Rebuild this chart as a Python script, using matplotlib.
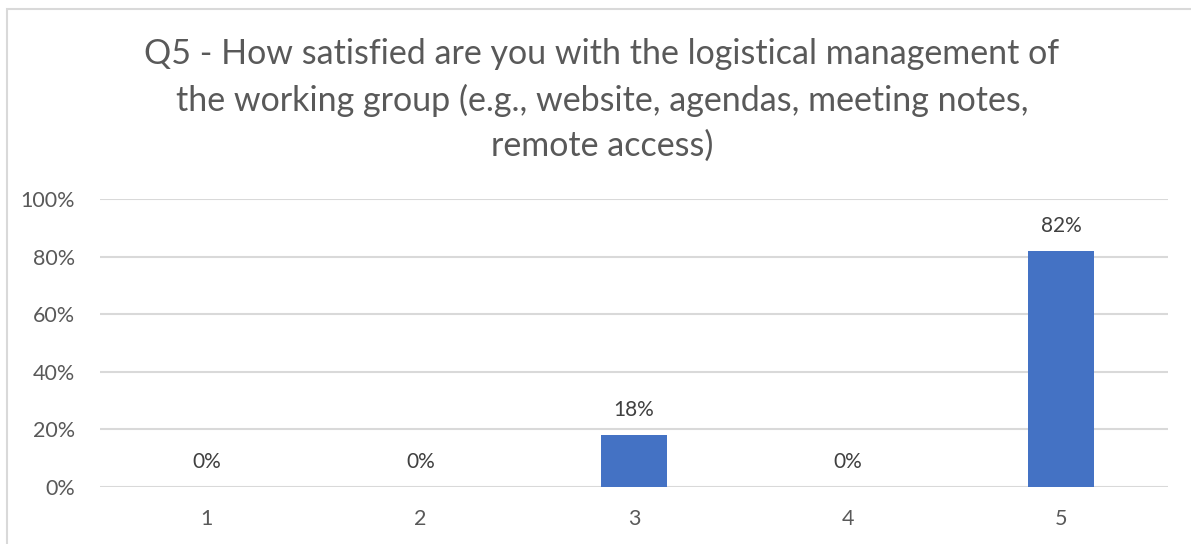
import matplotlib.pyplot as plt
from matplotlib.patches import Rectangle

categories = ["1", "2", "3", "4", "5"]
shares = [0, 0, 18, 0, 82]
yticks = [0, 20, 40, 60, 80, 100]
title = ("Q5 - How satisfied are you with the logistical management of\n"
         "the working group (e.g., website, agendas, meeting notes,\n"
         "remote access)")

plt.rcParams['font.family'] = ['Lato', 'DejaVu Sans']

W, H = 1191, 544
fig = plt.figure(figsize=(W / 100, H / 100), dpi=100)
ax = fig.add_axes([100 / W, 1 - 487 / H, (1168 - 100) / W, (487 - 199) / H])

# chart border (cut off on the right and bottom)
fig.patches.append(Rectangle((7 / W, -0.1), 1.2, 1 - 9 / H + 0.1,
                             transform=fig.transFigure, fill=False,
                             edgecolor="#d9d9d9", linewidth=1.5))

x = range(len(categories))
bars = ax.bar(x, shares, width=0.31, color="#4472c4", zorder=3)
for i, v in enumerate(shares):
    ax.annotate(f"{v}%", (i, v), xytext=(0, 11), textcoords="offset points",
                ha="center", va="bottom", fontsize=15, color="#404040")

ax.set_xlim(-0.5, len(categories) - 0.5)
ax.set_ylim(0, 100)
ax.set_yticks(yticks)
ax.set_yticklabels([f"{t}%" for t in yticks])
ax.set_xticks(list(x))
ax.set_xticklabels(categories)
ax.tick_params(axis="both", length=0, labelsize=15.5, colors="#595959")
ax.tick_params(axis="y", pad=18)
ax.tick_params(axis="x", pad=16)
ax.grid(axis="y", color="#d9d9d9", linewidth=1.5, zorder=0)
for s in ax.spines.values():
    s.set_visible(False)

fig.text(602 / W, 1 - 100 / H, title, ha="center", va="center", fontsize=24.5,
         color="#595959", linespacing=1.5)

fig.savefig("out.png", dpi=100)
